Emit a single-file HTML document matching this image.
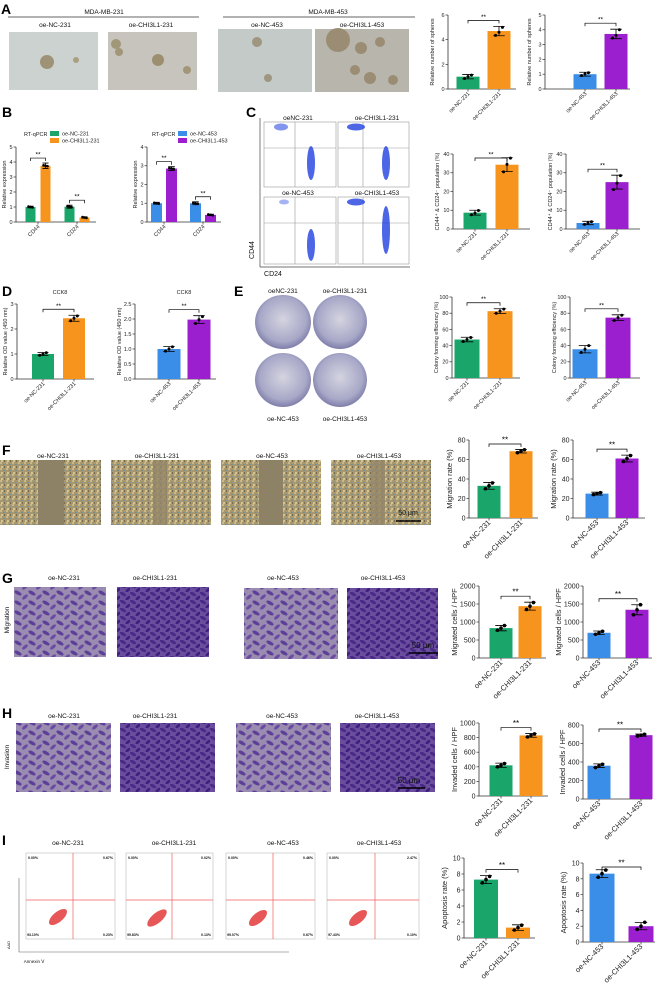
<!DOCTYPE html>
<html><head><meta charset="utf-8"><style>
html,body{margin:0;padding:0;background:#fff;}
svg{display:block;font-family:"Liberation Sans",Arial,sans-serif;}
</style></head><body>
<svg id="fig" width="660" height="991" viewBox="0 0 660 991" xmlns="http://www.w3.org/2000/svg">
<defs>
<pattern id="speck" width="6" height="6" patternUnits="userSpaceOnUse">
<rect width="6" height="6" fill="#a89870"/><rect x="0" y="0" width="2" height="2" fill="#c9b98a"/><rect x="3" y="2" width="2" height="1" fill="#6f8fa0"/><rect x="1" y="4" width="2" height="2" fill="#d4c48e"/><rect x="4" y="4" width="1" height="2" fill="#7a6a50"/></pattern>
<pattern id="cv1" width="14" height="10" patternUnits="userSpaceOnUse">
<rect width="14" height="10" fill="#9a8cb0"/><ellipse cx="4" cy="3" rx="4" ry="1.8" fill="#5e3f98" transform="rotate(30 4 3)"/><ellipse cx="11" cy="7" rx="3.5" ry="1.6" fill="#6a4aa2" transform="rotate(-40 11 7)"/></pattern>
<pattern id="cv2" width="10" height="8" patternUnits="userSpaceOnUse">
<rect width="10" height="8" fill="#6a4d9c"/><ellipse cx="3" cy="2" rx="3.5" ry="1.6" fill="#4a2a88" transform="rotate(30 3 2)"/><ellipse cx="8" cy="6" rx="3" ry="1.5" fill="#3f2080" transform="rotate(-40 8 6)"/></pattern>
<radialGradient id="plate" cx="50%" cy="45%" r="55%"><stop offset="0%" stop-color="#d4d4e0"/><stop offset="75%" stop-color="#a8a8c8"/><stop offset="100%" stop-color="#7e7eaa"/></radialGradient>
</defs>

<g font-weight="bold" font-size="14" fill="#000">
<text x="1" y="14">A</text>
<text x="2" y="117">B</text>
<text x="246" y="117">C</text>
<text x="2" y="296">D</text>
<text x="234" y="296">E</text>
<text x="2" y="455">F</text>
<text x="2" y="583">G</text>
<text x="2" y="718">H</text>
<text x="2" y="845">I</text>
</g>

<g font-size="6.5" text-anchor="middle" fill="#111">
<text x="104" y="14">MDA-MB-231</text><line x1="8" y1="17" x2="199" y2="17" stroke="#333" stroke-width="0.8"/>
<text x="328" y="14">MDA-MB-453</text><line x1="223" y1="17" x2="415" y2="17" stroke="#333" stroke-width="0.8"/>
<text x="55" y="27">oe-NC-231</text><text x="151" y="27">oe-CHI3L1-231</text>
<text x="267" y="27">oe-NC-453</text><text x="362" y="27">oe-CHI3L1-453</text>
<rect x="9" y="32" width="89" height="58" fill="#ccd2cf"/><circle cx="47" cy="62" r="7" fill="#9e9376"/><circle cx="76" cy="60" r="3" fill="#a9a082"/>
<rect x="108" y="32" width="89" height="58" fill="#c6c4bc"/><circle cx="116" cy="44" r="5" fill="#a29678"/><circle cx="119" cy="52" r="4" fill="#a29678"/><circle cx="158" cy="60" r="6" fill="#9c8f70"/><circle cx="187" cy="70" r="4" fill="#a29678"/>
<rect x="218" y="29" width="94" height="63" fill="#c4cac8"/><circle cx="257" cy="42" r="5" fill="#9e9680"/><circle cx="268" cy="78" r="4" fill="#9e9680"/>
<rect x="315" y="29" width="94" height="63" fill="#b8b5ad"/><circle cx="338" cy="40" r="12" fill="#9a8d74"/><circle cx="361" cy="48" r="6" fill="#9a8d74"/><circle cx="380" cy="42" r="5" fill="#9a8d74"/><circle cx="355" cy="70" r="5" fill="#9a8d74"/><circle cx="370" cy="78" r="6" fill="#9a8d74"/><circle cx="393" cy="80" r="5" fill="#9a8d74"/>
</g>

<g font-size="6.5" text-anchor="middle" fill="#111">
<text x="298" y="120">oeNC-231</text><text x="377" y="120">oe-CHI3L1-231</text>
<text x="298" y="195">oe-NC-453</text><text x="377" y="195">oe-CHI3L1-453</text>
<line x1="260" y1="118" x2="260" y2="267" stroke="#444" stroke-width="0.7"/>
<line x1="260" y1="267" x2="410" y2="267" stroke="#444" stroke-width="0.7"/>
<g fill="none" stroke="#999" stroke-width="0.6">
<rect x="264" y="122" width="72" height="65"/><rect x="338" y="122" width="71" height="65"/>
<rect x="264" y="197" width="72" height="67"/><rect x="338" y="197" width="71" height="67"/>
<path d="M295 122V187M264 148H336M363 122V187M338 148H409M295 197V264M264 223H336M363 197V264M338 223H409"/>
</g>
<g fill="#2040e0" opacity="0.8">
<ellipse cx="281" cy="127" rx="7" ry="3.5" opacity="0.7"/><ellipse cx="356" cy="127" rx="9" ry="3.5"/>
<ellipse cx="311" cy="163" rx="4" ry="17"/><ellipse cx="386" cy="163" rx="4" ry="17"/>
<ellipse cx="284" cy="202" rx="5" ry="2.5" opacity="0.5"/><ellipse cx="356" cy="202" rx="9" ry="3.5"/>
<ellipse cx="311" cy="245" rx="4" ry="16"/><ellipse cx="386" cy="230" rx="4" ry="24"/>
</g>
<text x="254" y="250" transform="rotate(-90 254 250)" font-size="7">CD44</text>
<text x="273" y="276" font-size="7">CD24</text>
</g>

<g font-size="6.5" text-anchor="middle" fill="#111">
<text x="283" y="293">oeNC-231</text><text x="345" y="293">oe-CHI3L1-231</text>
<text x="283" y="421">oe-NC-453</text><text x="345" y="421">oe-CHI3L1-453</text>
<ellipse cx="283" cy="322" rx="28" ry="27" fill="url(#plate)"/><ellipse cx="340" cy="322" rx="27" ry="27" fill="url(#plate)"/>
<ellipse cx="283" cy="380" rx="28" ry="27" fill="url(#plate)"/><ellipse cx="340" cy="380" rx="27" ry="27" fill="url(#plate)"/>
</g>

<g font-size="6.5" text-anchor="middle" fill="#111">
<text x="53" y="458">oe-NC-231</text><text x="157" y="458">oe-CHI3L1-231</text><text x="272" y="458">oe-NC-453</text><text x="379" y="458">oe-CHI3L1-453</text>
<rect x="0" y="460" width="101" height="65" fill="url(#speck)"/><rect x="38" y="460" width="26" height="65" fill="#8e8266"/>
<rect x="111" y="460" width="100" height="65" fill="url(#speck)"/><rect x="153" y="460" width="14" height="65" fill="#928668" opacity="0.8"/>
<rect x="221" y="460" width="100" height="65" fill="url(#speck)"/><rect x="259" y="460" width="24" height="65" fill="#8e8266"/>
<rect x="331" y="460" width="100" height="65" fill="url(#speck)"/><rect x="371" y="460" width="14" height="65" fill="#928668" opacity="0.8"/>
<text x="408" y="515" font-size="7">50 μm</text><line x1="396" y1="521" x2="421" y2="521" stroke="#000" stroke-width="1.5"/>
</g>

<g font-size="6.5" text-anchor="middle" fill="#111">
<text x="64" y="580">oe-NC-231</text><text x="155" y="580">oe-CHI3L1-231</text><text x="283" y="580">oe-NC-453</text><text x="383" y="580">oe-CHI3L1-453</text>
<text x="9" y="620" transform="rotate(-90 9 620)">Migration</text>
<rect x="14" y="587" width="92" height="70" fill="url(#cv1)"/><rect x="117" y="587" width="92" height="70" fill="url(#cv2)"/>
<rect x="244" y="588" width="94" height="71" fill="url(#cv1)"/><rect x="347" y="588" width="91" height="71" fill="url(#cv2)"/>
<text x="423" y="648" font-size="8">50 μm</text><line x1="409" y1="653" x2="438" y2="653" stroke="#000" stroke-width="1.5"/>
<text x="64" y="718">oe-NC-231</text><text x="155" y="718">oe-CHI3L1-231</text><text x="282" y="718">oe-NC-453</text><text x="377" y="718">oe-CHI3L1-453</text>
<text x="9" y="757" transform="rotate(-90 9 757)">Invasion</text>
<rect x="16" y="723" width="95" height="69" fill="url(#cv1)"/><rect x="120" y="723" width="95" height="69" fill="url(#cv2)"/>
<rect x="236" y="723" width="95" height="69" fill="url(#cv1)"/><rect x="340" y="723" width="95" height="69" fill="url(#cv2)"/>
<text x="409" y="783" font-size="8">50 μm</text><line x1="398" y1="788" x2="425" y2="788" stroke="#000" stroke-width="1.5"/>
</g>

<g font-size="6.5" text-anchor="middle" fill="#111">
<text x="68" y="845">oe-NC-231</text><text x="174" y="845">oe-CHI3L1-231</text><text x="283" y="845">oe-NC-453</text><text x="379" y="845">oe-CHI3L1-453</text>
<g fill="none" stroke="#bbb" stroke-width="0.6"><rect x="26" y="853" width="89" height="86"/><rect x="126" y="853" width="87" height="86"/><rect x="226" y="853" width="89" height="86"/><rect x="327" y="853" width="92" height="86"/></g>
<g stroke="#f06060" stroke-width="0.7"><path d="M73 853V939M26 900H115M172 853V939M126 900H213M273 853V939M226 900H315M375 853V939M327 900H419"/></g>
<g fill="#e02020" opacity="0.75"><ellipse cx="58" cy="917" rx="11" ry="5" transform="rotate(-40 58 917)"/><ellipse cx="157" cy="918" rx="12" ry="5" transform="rotate(-40 157 918)"/><ellipse cx="258" cy="918" rx="11" ry="5" transform="rotate(-40 258 918)"/><ellipse cx="358" cy="918" rx="11" ry="5" transform="rotate(-40 358 918)"/></g>
<g font-size="3.5" font-weight="bold"><text x="33" y="859">0.00%</text><text x="108" y="859">0.67%</text><text x="33" y="936">93.10%</text><text x="108" y="936">0.23%</text>
<text x="133" y="859">0.00%</text><text x="206" y="859">0.02%</text><text x="133" y="936">99.83%</text><text x="206" y="936">0.13%</text>
<text x="233" y="859">0.00%</text><text x="308" y="859">0.46%</text><text x="233" y="936">99.07%</text><text x="308" y="936">0.67%</text>
<text x="334" y="859">0.00%</text><text x="412" y="859">2.47%</text><text x="334" y="936">97.43%</text><text x="412" y="936">0.10%</text></g>
<path d="M19 878V952H289" fill="none" stroke="#666" stroke-width="0.6"/>
<text x="10" y="945" font-size="4" transform="rotate(-90 10 945)">AAD</text>
<text x="34" y="963" font-size="4.5">Annexin Ⅴ</text>
</g>

<g id="charts"></g>
</svg>
<script>
const GREEN='#1aa56a', ORANGE='#f7941d', BLUE='#3a8ee8', PURPLE='#9b1fcf';
const a1Cats=['oe-NC-231','oe-CHI3L1-231'], a1Vals=[1.0,4.7], a1Errs=[0.18,0.38], a1Pts=[[0.85,1.0,1.12],[4.35,4.6,5.0]], a1Ticks=[0,2,4,6];
const a2Cats=['oe-NC-453','oe-CHI3L1-453'], a2Vals=[1.0,3.72], a2Errs=[0.13,0.32], a2Pts=[[0.9,1.02,1.1],[3.45,3.62,4.0]], a2Ticks=[0,1,2,3,4,5];
const bCats=['CD44','CD24'];
const b1Nc=[1.0,1.02], b1Oe=[3.75,0.3], b1NcErr=[0.06,0.1], b1OeErr=[0.18,0.05], b1Ticks=[0,1,2,3,4,5];
const b2Nc=[1.0,1.0], b2Oe=[2.85,0.38], b2NcErr=[0.05,0.08], b2OeErr=[0.1,0.04], b2Ticks=[0,1,2,3,4];
const c1Cats=['oe-NC-231','oe-CHI3L1-231'], c1Vals=[8.7,34.3], c1Errs=[1.3,3.7], c1Pts=[[7.6,8.5,9.9],[30.5,34.5,37.8]], c1Ticks=[0,10,20,30,40];
const c2Cats=['oe-NC-453','oe-CHI3L1-453'], c2Vals=[3.2,25], c2Errs=[0.9,3.7], c2Pts=[[2.5,3.2,3.9],[21,24.5,28.5]], c2Ticks=[0,10,20,30,40];
const d1Cats=['oe-NC-231','oe-CHI3L1-231'], d1Vals=[1.0,2.43], d1Errs=[0.06,0.12], d1Pts=[[0.95,1.0,1.05],[2.33,2.43,2.52]], d1Ticks=[0,1,2,3];
const d2Cats=['oe-NC-453','oe-CHI3L1-453'], d2Vals=[1.0,1.98], d2Errs=[0.08,0.13], d2Pts=[[0.93,1.0,1.07],[1.85,1.98,2.08]], d2Ticks=[0,0.5,1.0,1.5,2.0,2.5], d2TickLabels=['0.0','0.5','1.0','1.5','2.0','2.5'];
const e1Cats=['oe-NC-231','oe-CHI3L1-231'], e1Vals=[47.5,82.5], e1Errs=[2.8,3.0], e1Pts=[[45,47.5,50],[80,82.5,85]], e1Ticks=[0,20,40,60,80,100];
const e2Cats=['oe-NC-453','oe-CHI3L1-453'], e2Vals=[35.5,74.5], e2Errs=[4.5,3.5], e2Pts=[[31.5,35.5,40],[71,74.5,77.5]], e2Ticks=[0,20,40,60,80,100];
const f1Cats=['oe-NC-231','oe-CHI3L1-231'], f1Vals=[33,68.5], f1Errs=[3.5,1.8], f1Pts=[[30,33,36],[67,68.5,70]], f1Ticks=[0,20,40,60,80];
const f2Cats=['oe-NC-453','oe-CHI3L1-453'], f2Vals=[25,61], f2Errs=[1.5,3.5], f2Pts=[[24,25,26],[58,61,64]], f2Ticks=[0,20,40,60,80];
const g1Cats=['oe-NC-231','oe-CHI3L1-231'], g1Vals=[830,1440], g1Errs=[75,110], g1Pts=[[770,830,900],[1350,1440,1540]], g1Ticks=[0,500,1000,1500,2000];
const g2Cats=['oe-NC-453','oe-CHI3L1-453'], g2Vals=[700,1340], g2Errs=[50,140], g2Pts=[[660,700,740],[1200,1340,1480]], g2Ticks=[0,500,1000,1500,2000];
const h1Cats=['oe-NC-231','oe-CHI3L1-231'], h1Vals=[420,830], h1Errs=[30,25], h1Pts=[[400,420,445],[810,830,850]], h1Ticks=[0,200,400,600,800,1000];
const h2Cats=['oe-NC-453','oe-CHI3L1-453'], h2Vals=[360,690], h2Errs=[20,12], h2Pts=[[340,360,375],[680,690,700]], h2Ticks=[0,200,400,600,800];
const i1Cats=['oe-NC-231','oe-CHI3L1-231'], i1Vals=[7.3,1.3], i1Errs=[0.5,0.35], i1Pts=[[6.9,7.3,7.7],[1.0,1.3,1.6]], i1Ticks=[0,2,4,6,8,10];
const i2Cats=['oe-NC-453','oe-CHI3L1-453'], i2Vals=[8.65,2.0], i2Errs=[0.5,0.45], i2Pts=[[8.2,8.65,9.1],[1.6,2.0,2.5]], i2Ticks=[0,2,4,6,8,10];

const NS='http://www.w3.org/2000/svg';
const root=document.getElementById('charts');
function mk(tag,attrs,parent){const e=document.createElementNS(NS,tag);for(const k in attrs)e.setAttribute(k,attrs[k]);(parent||root).appendChild(e);return e;}

function axes(g,o,ticks,tickLabels,ylabel){
  const yMax=ticks[ticks.length-1];
  const sy=v=>o.y0-(v/yMax)*(o.y0-o.yTop);
  const ax=mk('path',{d:`M${o.x0} ${o.yTop}V${o.y0}H${o.xEnd}`,fill:'none',stroke:'#333','stroke-width':0.8},g);
  
  
  ticks.forEach((t,i)=>{
    mk('line',{x1:o.x0-2.5,x2:o.x0,y1:sy(t),y2:sy(t),stroke:'#333','stroke-width':0.7},g);
    const tl=mk('text',{x:o.x0-3.5,y:sy(t)+o.fs*0.35,'font-size':o.fs,'text-anchor':'end',fill:'#222'},g);
    tl.textContent=tickLabels?tickLabels[i]:String(t);
    
    
  });
  const yl=mk('text',{x:0,y:0,'font-size':o.lfs||o.fs,'text-anchor':'middle',fill:'#222',transform:`translate(${o.x0-o.lo},${(o.y0+o.yTop)/2}) rotate(-90)`},g);
  yl.textContent=ylabel;
  
  
  return sy;
}
function xLabel(g,o,cx,txt){
  mk('line',{x1:cx,x2:cx,y1:o.y0,y2:o.y0+2.5,stroke:'#333','stroke-width':0.7},g);
  const t=mk('text',{x:0,y:0,'font-size':o.xfs||o.fs,'text-anchor':'end',fill:'#222',transform:`translate(${cx+2},${o.y0+5}) rotate(-45)`},g);
  t.textContent=txt;
  
  
}
function errBar(g,cx,sy,v,e,w){
  const p=mk('path',{d:`M${cx} ${sy(v+e)}V${sy(v-e)}M${cx-w} ${sy(v+e)}H${cx+w}M${cx-w} ${sy(v-e)}H${cx+w}`,stroke:'#000','stroke-width':0.8,fill:'none'},g);
  
  
}
function sig(g,x1,x2,y,fs){
  const p=mk('path',{d:`M${x1} ${y+3}V${y}H${x2}V${y+3}`,stroke:'#000','stroke-width':0.7,fill:'none'},g);
  
  
  const t=mk('text',{x:(x1+x2)/2,y:y-1.5,'font-size':fs,'text-anchor':'middle',fill:'#000'},g);
  t.textContent='**';
  
  
}
function barChart(name,o,cats,vals,errs,pts,colors,ticks,tickLabels,ylabel){
  const g=mk('g',{});
  
  
  const sy=axes(g,o,ticks,tickLabels,ylabel);
  const cxs=[];
  cats.forEach((c,i)=>{
    const cx=o.x0+o.c0+i*o.step; cxs.push(cx);
    const b=mk('rect',{x:cx-o.bw/2,y:sy(vals[i]),width:o.bw,height:o.y0-sy(vals[i]),fill:colors[i]},g);
    
    
    errBar(g,cx,sy,vals[i],errs[i],o.bw*0.25);
    pts[i].forEach((p,j)=>{
      const d=mk('circle',{cx:cx+(j-1)*o.bw*0.15,cy:sy(p),r:o.pr||1.5,fill:'#000'},g);
      
      
    });
    xLabel(g,o,cx,c);
  });
  const top=Math.max(...vals.map((v,i)=>v+errs[i]));
  sig(g,cxs[0],cxs[1],Math.max(sy(top)-6,o.yTop+4),o.fs+1);
}
function groupChart(name,o,cats,s1,s2,e1,e2,colors,ticks,ylabel){
  const g=mk('g',{});
  
  
  const sy=axes(g,o,ticks,null,ylabel);
  cats.forEach((c,i)=>{
    const gc=o.x0+o.c0+i*o.step;
    [[s1,e1,-1],[s2,e2,1]].forEach(([s,e,k],j)=>{
      const cx=gc+k*o.off;
      const b=mk('rect',{x:cx-o.bw/2,y:sy(s[i]),width:o.bw,height:o.y0-sy(s[i]),fill:colors[j]},g);
      
      
      errBar(g,cx,sy,s[i],e[i],o.bw*0.3);
      [-1,0,1].forEach(q=>{const d=mk('circle',{cx:cx+q*o.bw*0.2,cy:sy(s[i])+q*0.4,r:1.3,fill:'#000'},g);
        
        });
    });
    xLabel(g,o,gc,c);
    const top=Math.max(s1[i]+e1[i],s2[i]+e2[i]);
    sig(g,gc-o.off,gc+o.off,sy(top)-5,o.fs+1);
  });
}
function legend(name,x,y,title,labels,colors){
  const g=mk('g',{});
  
  
  const t=mk('text',{x:x,y:y+5,'font-size':5.5,fill:'#222'},g); t.textContent=title;
  labels.forEach((l,i)=>{
    mk('rect',{x:x+26,y:y+i*7,width:9,height:5,fill:colors[i]},g);
    const lt=mk('text',{x:x+38,y:y+i*7+4.5,'font-size':5.5,fill:'#222'},g); lt.textContent=l;
    
    
  });
}
const sA={fs:5.5,lo:14,c0:20,step:31,bw:23};
barChart('chart-a1',Object.assign({},sA,{x0:448,y0:89,yTop:15,xEnd:516}),a1Cats,a1Vals,a1Errs,a1Pts,[GREEN,ORANGE],a1Ticks,null,'Relative  number  of  spheres');
barChart('chart-a2',Object.assign({},sA,{x0:545,y0:89,yTop:15,xEnd:630,c0:40}),a2Cats,a2Vals,a2Errs,a2Pts,[BLUE,PURPLE],a2Ticks,null,'Relative  number  of  spheres');
legend('legend-b1',24,131,'RT-qPCR',['oe-NC-231','oe-CHI3L1-231'],[GREEN,ORANGE]);
legend('legend-b2',152,131,'RT-qPCR',['oe-NC-453','oe-CHI3L1-453'],[BLUE,PURPLE]);
groupChart('chart-b1',{x0:16,y0:222,yTop:147,xEnd:96,c0:22,step:39,off:7.5,bw:10,fs:5.5,lo:10},bCats,b1Nc,b1Oe,b1NcErr,b1OeErr,[GREEN,ORANGE],b1Ticks,'Relative expression');
groupChart('chart-b2',{x0:147,y0:222,yTop:147,xEnd:221,c0:17,step:39,off:7.5,bw:11,fs:5.5,lo:10},bCats,b2Nc,b2Oe,b2NcErr,b2OeErr,[BLUE,PURPLE],b2Ticks,'Relative expression');
barChart('chart-c1',{x0:453,y0:229,yTop:154,xEnd:530,c0:22,step:32,bw:23,fs:5.5,lo:14},c1Cats,c1Vals,c1Errs,c1Pts,[GREEN,ORANGE],c1Ticks,null,'CD44⁺ & CD24⁻ population (%)');
barChart('chart-c2',{x0:566,y0:229,yTop:154,xEnd:640,c0:22,step:29,bw:23,fs:5.5,lo:14},c2Cats,c2Vals,c2Errs,c2Pts,[BLUE,PURPLE],c2Ticks,null,'CD44⁺ & CD24⁻ population (%)');
barChart('chart-d1',{x0:17,y0:379,yTop:304,xEnd:94,c0:26,step:31,bw:22,fs:5.5,lo:10},d1Cats,d1Vals,d1Errs,d1Pts,[GREEN,ORANGE],d1Ticks,null,'Relative OD value (450 nm)');
barChart('chart-d2',{x0:135,y0:379,yTop:304,xEnd:216,c0:34,step:30,bw:23,fs:5.5,lo:14},d2Cats,d2Vals,d2Errs,d2Pts,[BLUE,PURPLE],d2Ticks,d2TickLabels,'Relative OD value (450 nm)');
(function(){const t1=mk('text',{x:60,y:294,'font-size':5.5,'text-anchor':'middle',fill:'#222'});t1.textContent='CCK8';


const t2=mk('text',{x:184,y:294,'font-size':5.5,'text-anchor':'middle',fill:'#222'});t2.textContent='CCK8';

})();
barChart('chart-e1',{x0:452,y0:378,yTop:297,xEnd:520,c0:15,step:33,bw:25,fs:5.5,lo:14},e1Cats,e1Vals,e1Errs,e1Pts,[GREEN,ORANGE],e1Ticks,null,'Colony forming efficiency (%)');
barChart('chart-e2',{x0:570,y0:378,yTop:297,xEnd:640,c0:15,step:33,bw:25,fs:5.5,lo:14},e2Cats,e2Vals,e2Errs,e2Pts,[BLUE,PURPLE],e2Ticks,null,'Colony forming efficiency (%)');
const sF={fs:7,lfs:7.5,xfs:7.5,lo:17,bw:23,pr:1.8};
barChart('chart-f1',Object.assign({},sF,{x0:469,y0:518,yTop:440,xEnd:538,c0:20,step:32}),f1Cats,f1Vals,f1Errs,f1Pts,[GREEN,ORANGE],f1Ticks,null,'Migration rate (%)');
barChart('chart-f2',Object.assign({},sF,{x0:573,y0:518,yTop:440,xEnd:645,c0:24,step:30}),f2Cats,f2Vals,f2Errs,f2Pts,[BLUE,PURPLE],f2Ticks,null,'Migration rate (%)');
barChart('chart-g1',Object.assign({},sF,{x0:479,y0:658,yTop:586,xEnd:546,c0:22,step:29,lo:22}),g1Cats,g1Vals,g1Errs,g1Pts,[GREEN,ORANGE],g1Ticks,null,'Migrated cells / HPF');
barChart('chart-g2',Object.assign({},sF,{x0:583,y0:658,yTop:586,xEnd:652,c0:16,step:38,lo:22}),g2Cats,g2Vals,g2Errs,g2Pts,[BLUE,PURPLE],g2Ticks,null,'Migrated cells / HPF');
barChart('chart-h1',Object.assign({},sF,{x0:479,y0:796,yTop:723,xEnd:548,c0:22,step:30,lo:22}),h1Cats,h1Vals,h1Errs,h1Pts,[GREEN,ORANGE],h1Ticks,null,'Invaded cells / HPF');
barChart('chart-h2',Object.assign({},sF,{x0:583,y0:799,yTop:725,xEnd:652,c0:16,step:42,lo:18}),h2Cats,h2Vals,h2Errs,h2Pts,[BLUE,PURPLE],h2Ticks,null,'Invaded cells / HPF');
barChart('chart-i1',Object.assign({},sF,{x0:464,y0:938,yTop:858,xEnd:535,c0:22,step:32,bw:24}),i1Cats,i1Vals,i1Errs,i1Pts,[GREEN,ORANGE],i1Ticks,null,'Apoptosis rate (%)');
barChart('chart-i2',Object.assign({},sF,{x0:583,y0:942,yTop:863,xEnd:655,c0:19,step:39,bw:25}),i2Cats,i2Vals,i2Errs,i2Pts,[BLUE,PURPLE],i2Ticks,null,'Apoptosis rate (%)');
</script>
</body></html>
